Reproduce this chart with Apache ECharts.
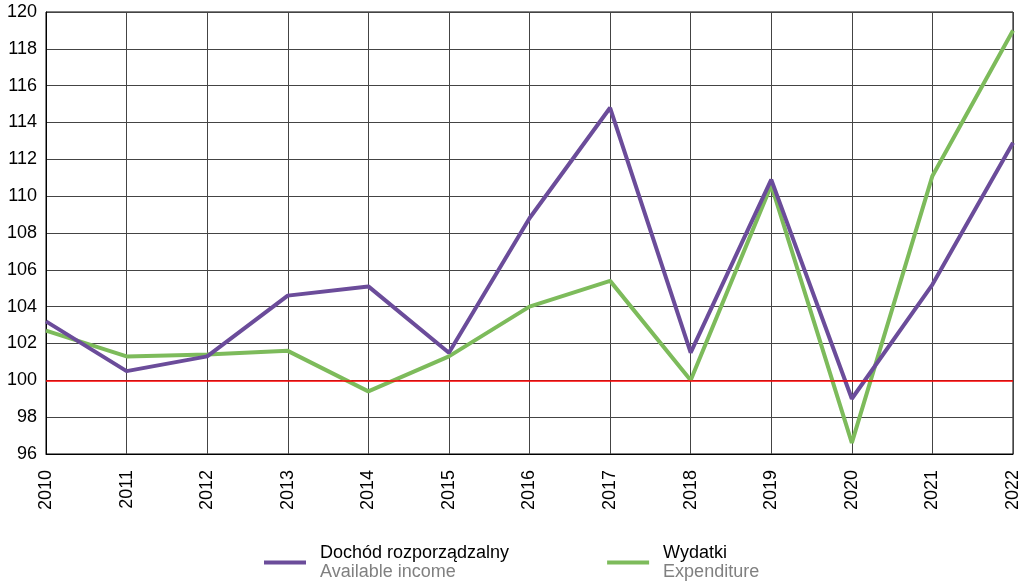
<!DOCTYPE html>
<html><head><meta charset="utf-8">
<script src="https://cdn.jsdelivr.net/npm/echarts@6/dist/echarts.min.js"></script>
<style>html,body{margin:0;padding:0;background:#fff}#c{width:1030px;height:581px}</style>
</head><body><div id="c"></div>
<script>
var years = ['2010','2011','2012','2013','2014','2015','2016','2017','2018','2019','2020','2021','2022'];
var income = [103.2,100.5,101.3,104.6,105.1,101.5,108.8,114.8,101.5,110.9,99.0,105.2,112.9];
var expenditure = [102.7,101.3,101.4,101.6,99.4,101.3,104.0,105.4,100.0,110.6,96.6,111.1,119.0];
var yTicks = {min:96, max:120, interval:2};
var refLine = 100;
var names = {inc:['Dochód rozporządzalny','Available income'], exp:['Wydatki','Expenditure']};

var font = '"Liberation Sans", Arial, sans-serif';
var chart = echarts.init(document.getElementById('c'));
chart.setOption({
  animation:false,
  textStyle:{fontFamily:font},
  grid:{left:46,right:17,top:12,bottom:127,show:true,borderColor:'#000',borderWidth:1},
  legend:{
    top:544, left:264, itemGap:98, padding:0,
    icon:'rect', itemWidth:42, itemHeight:4,
    data:[{name:'inc'},{name:'exp'}],
    formatter:function(n){return '{a|'+names[n][0]+'}\n{b|'+names[n][1]+'}';},
    textStyle:{fontFamily:font, padding:[0,0,0,9], rich:{
      a:{fontSize:18,color:'#000',lineHeight:19,fontFamily:font},
      b:{fontSize:18,color:'#808080',lineHeight:19,fontFamily:font}
    }}
  },
  xAxis:{type:'category',data:years,boundaryGap:false,
    axisLine:{lineStyle:{color:'#000',width:1}},axisTick:{show:false},
    axisLabel:{rotate:90,fontSize:18,color:'#000',margin:16,fontFamily:font},
    splitLine:{show:true,lineStyle:{color:'#444',width:1}}},
  yAxis:{type:'value',min:yTicks.min,max:yTicks.max,interval:yTicks.interval,
    axisLine:{show:true,lineStyle:{color:'#000'}},axisTick:{show:false},
    axisLabel:{fontSize:18,color:'#000',margin:9,fontFamily:font},
    splitLine:{lineStyle:{color:'#444',width:1}}},
  series:[
    {name:'inc',type:'line',data:income,symbol:'none',lineStyle:{color:'#6B4C9A',width:4},itemStyle:{color:'#6B4C9A'},z:3,
     markLine:{silent:true,symbol:'none',label:{show:false},lineStyle:{color:'#ff0000',width:1.5,type:'solid'},data:[{yAxis:refLine}]}},
    {name:'exp',type:'line',data:expenditure,symbol:'none',lineStyle:{color:'#7DBB5B',width:4},itemStyle:{color:'#7DBB5B'},z:2}
  ]
});
</script></body></html>
